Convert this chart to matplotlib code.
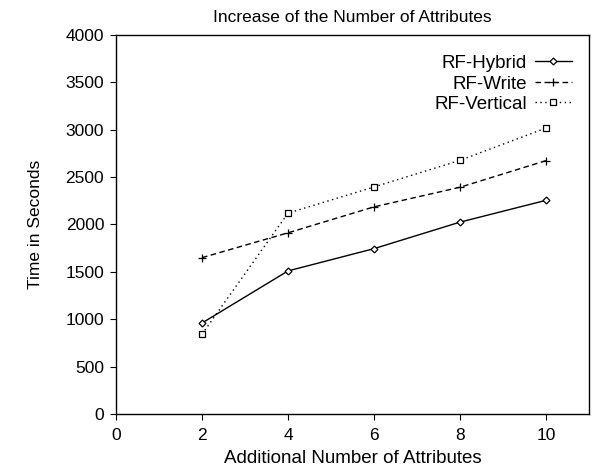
import matplotlib
matplotlib.use("Agg")
import matplotlib.pyplot as plt

plt.rcParams["font.family"] = ["Liberation Sans", "DejaVu Sans"]

# datos
attrs = [2, 4, 6, 8, 10]
rf_hybrid = [960, 1510, 1745, 2025, 2255]
rf_write = [1650, 1912, 2186, 2393, 2674]
rf_vertical = [842, 2120, 2396, 2677, 3018]

fig = plt.figure(figsize=(5.94, 4.69), dpi=100)
ax = fig.add_axes([0.1953, 0.1173, 0.7963, 0.8081])

ax.plot(attrs, rf_hybrid, color="black", linestyle="-", linewidth=1,
        marker="D", markersize=3.5, markerfacecolor="white", markeredgewidth=0.9,
        label="RF-Hybrid")
ax.plot(attrs, rf_write, color="black", linestyle=(0, (4, 2.5)), linewidth=1,
        marker="+", markersize=6, markeredgewidth=0.9, label="RF-Write")
ax.plot(attrs, rf_vertical, color="black", linestyle=(0, (1, 2.5)), linewidth=1,
        marker="s", markersize=4.5, markerfacecolor="white", markeredgewidth=0.9,
        label="RF-Vertical")

ax.set_xlim(0, 11)
ax.set_ylim(0, 4000)
ax.set_xticks([0, 2, 4, 6, 8, 10])
ax.set_yticks(range(0, 4001, 500))
ax.tick_params(direction="out", length=4, width=0.8, labelsize=12.5, pad=4.5)
ax.tick_params(axis="x", pad=6)
for s in ax.spines.values():
    s.set_linewidth(1.0)

ax.set_title("Increase of the Number of Attributes", fontsize=12.5, pad=9)
ax.set_xlabel("Additional Number of Attributes", fontsize=13.5, labelpad=5)
ax.set_ylabel("Time in Seconds", fontsize=12.5, labelpad=16)

ax.legend(loc="upper right", frameon=False, markerfirst=False, fontsize=13.5,
          handlelength=2.0, handletextpad=0.4, labelspacing=0.18,
          borderaxespad=0.5, bbox_to_anchor=(1.0, 0.992))

fig.savefig("out.png", dpi=100)
